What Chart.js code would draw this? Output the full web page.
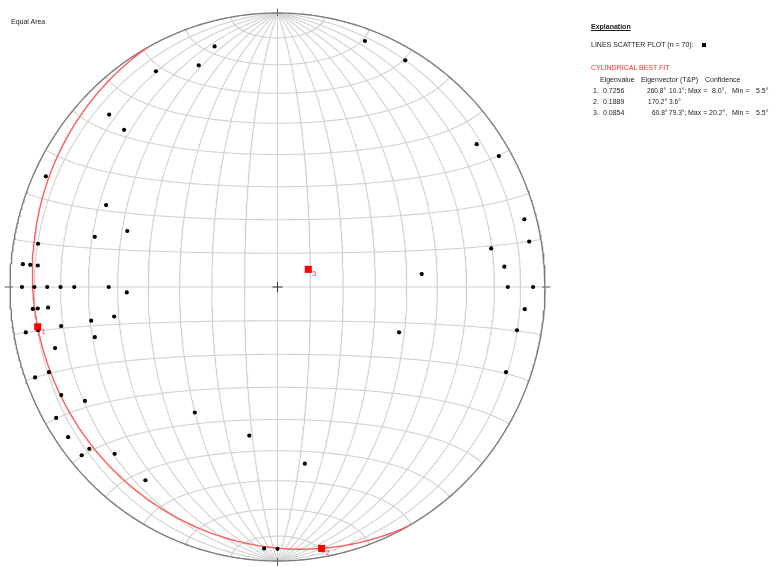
<!DOCTYPE html>
<html>
<head>
<meta charset="utf-8">
<script src="https://cdn.jsdelivr.net/npm/chart.js@4.4.0/dist/chart.umd.min.js"></script>
<style>
  html, body { margin: 0; padding: 0; background: #fff; }
  #wrap { position: relative; width: 774px; height: 567px; overflow: hidden;
          font-family: "Liberation Sans", Arial, sans-serif; color: #222; }
  #c { position: absolute; left: 0; top: 0; }
  .t { position: absolute; font-size: 7px; line-height: 8px; white-space: pre; }
  .n { font-size: 6.6px; }
  .red { color: #ff2a2a; }
  .hdr { font-weight: bold; text-decoration: underline; }
  .mark { position: absolute; width: 4px; height: 4px; background: #000; }
</style>
</head>
<body>
<div id="wrap">
  <canvas id="c" width="774" height="567"></canvas>
  <div class="t" style="left:11px;top:18px">Equal Area</div>
  <div id="legend"></div>
</div>
<script>
// Lineation measurements (trend / plunge, degrees)
const trends = [345, 340, 330, 20, 30, 315, 315, 55, 60,
                295, 295, 290, 285, 280, 275, 275, 275,
                270, 270, 270, 270, 270, 270, 268,
                265, 265, 265, 260, 260, 260, 260, 260,
                255, 255, 250, 250,
                244, 240, 240, 235, 230, 230, 225, 215, 214, 191, 171, 183, 180,
                75, 80, 80, 85, 85, 90, 90, 95, 110, 100, 110];
const plunges = [10, 15, 10, 5, 5, 12, 20, 10, 5,
                 5, 30, 40, 30, 10, 5, 8, 11,
                 5, 10, 15, 20, 25, 37, 43,
                 9, 11, 15, 30, 38, 19, 5, 10,
                 30, 15, 4, 10,
                 11, 18, 5, 5, 9, 5, 15, 15, 44, 44, 35, 5, 5,
                 5, 5, 20, 16, 45, 15, 5, 8, 50, 10, 10];
const sampleCount = 70;

// Cylindrical best fit: eigen analysis
const eigenvalues = [0.7256, 0.1889, 0.0854];
const eigenTrends = [260.8, 170.2, 60.8];
const eigenPlunges = [10.1, 3.6, 79.3];
const confMax = [8.0, null, 20.2];
const confMin = [5.5, null, 5.5];

const DEG = Math.PI / 180;

// Lower-hemisphere equal-area projection of a direction (north, east, down)
function toNet(n, e, d) {
  const len = Math.hypot(n, e, d);
  n /= len; e /= len; d /= len;
  if (d < -1e-9) { n = -n; e = -e; d = -d; }
  d = Math.max(0, d);
  const h = Math.hypot(n, e);
  const r = Math.sqrt(Math.max(0, 1 - d));
  if (h < 1e-12) return { x: 0, y: 0 };
  return { x: r * e / h, y: r * n / h };
}
function lineToNet(trend, plunge) {
  const t = trend * DEG, p = plunge * DEG;
  return toNet(Math.cos(p) * Math.cos(t), Math.cos(p) * Math.sin(t), Math.sin(p));
}

// Schmidt net: great circles through N-S and small circles about the N-S axis
const gridLines = [];
for (let k = 10; k < 180; k += 10) {
  const gc = [], sc = [];
  for (let t = 0; t <= 180; t += 1) {
    const a = t * DEG, b = k * DEG;
    gc.push(toNet(Math.cos(a), Math.sin(a) * Math.cos(b), Math.sin(a) * Math.sin(b)));
    sc.push(toNet(Math.cos(b), Math.sin(b) * Math.cos(a), Math.sin(b) * Math.sin(a)));
  }
  gridLines.push(gc, sc);
}

// Primitive circle
const primitive = [];
for (let a = 0; a <= 360; a += 0.5) primitive.push({ x: Math.sin(a * DEG), y: Math.cos(a * DEG) });

// Best-fit great circle: the plane normal to eigenvector 3
const poleTrend = eigenTrends[2], polePlunge = eigenPlunges[2];
const dipDir = (poleTrend + 180) % 360, dip = 90 - polePlunge;
const sAz = (dipDir - 90) * DEG;
const S = [Math.cos(sAz), Math.sin(sAz), 0];
const D = [Math.cos(dipDir * DEG) * Math.cos(dip * DEG), Math.sin(dipDir * DEG) * Math.cos(dip * DEG), Math.sin(dip * DEG)];
const fitCircle = [];
for (let t = 0; t <= 180; t += 1) {
  const c = Math.cos(t * DEG), s = Math.sin(t * DEG);
  fitCircle.push(toNet(c * S[0] + s * D[0], c * S[1] + s * D[1], c * S[2] + s * D[2]));
}

const dataPoints = trends.map((t, i) => lineToNet(t, plunges[i]));
const eigenPoints = eigenTrends.map((t, i) => lineToNet(t, eigenPlunges[i]));

const datasets = [];
datasets.push({ data: eigenPoints, pointStyle: 'rect', pointRadius: 5, backgroundColor: '#ff0000',
  borderColor: '#ff0000', borderWidth: 0, showLine: false, order: -2, clip: false });
datasets.push({ data: dataPoints, pointRadius: 2.1, backgroundColor: '#000', borderWidth: 0,
  showLine: false, order: -1, clip: false });
datasets.push({ data: [{ x: 0, y: 0 }], pointStyle: 'cross', pointRadius: 5, borderColor: '#333',
  borderWidth: 1, showLine: false, order: 0, clip: false });
datasets.push({ data: fitCircle, showLine: true, pointRadius: 0, borderColor: '#ff5c5c', borderWidth: 1.4,
  tension: 0, order: 1, clip: false });
datasets.push({ data: primitive, showLine: true, pointRadius: 0, borderColor: '#7c7c7c', borderWidth: 1.4,
  tension: 0, order: 2, clip: false });
// Cardinal ticks
[[0, 1], [1, 0], [0, -1], [-1, 0]].forEach(([ux, uy]) => {
  datasets.push({ data: [{ x: ux * 0.99, y: uy * 0.99 }, { x: ux * 1.02, y: uy * 1.016 }], showLine: true,
    pointRadius: 0, borderColor: '#555', borderWidth: 1, order: 2, clip: false });
});
gridLines.forEach(g => datasets.push({ data: g, showLine: true, pointRadius: 0, borderColor: '#d2d2d2',
  borderWidth: 1.1, tension: 0, order: 3, clip: false }));

// Numbers beside the eigenvector markers
const eigenLabels = {
  id: 'eigenLabels',
  afterDatasetsDraw(chart) {
    const ctx = chart.ctx, xs = chart.scales.x, ys = chart.scales.y;
    ctx.save();
    ctx.fillStyle = '#ff3030';
    ctx.font = '7px "Liberation Sans", Arial, sans-serif';
    ctx.textBaseline = 'middle';
    eigenPoints.forEach((p, i) => {
      ctx.fillText(String(i + 1), xs.getPixelForValue(p.x) + 4, ys.getPixelForValue(p.y) + 5);
    });
    ctx.restore();
  }
};

new Chart(document.getElementById('c'), {
  type: 'scatter',
  data: { datasets },
  options: {
    responsive: false,
    animation: false,
    events: [],
    layout: { padding: { left: 10, right: 229, top: 13, bottom: 1 } },
    plugins: { legend: { display: false }, tooltip: { enabled: false } },
    scales: {
      x: { type: 'linear', min: -1, max: 1, display: false },
      y: { type: 'linear', min: -1, max: 1, display: false }
    }
  },
  plugins: [eigenLabels]
});

// Explanation panel
const legend = document.getElementById('legend');
function addText(txt, x, y, cls) {
  const d = document.createElement('div');
  d.className = 't' + (cls ? ' ' + cls : '');
  d.style.left = x + 'px';
  d.style.top = (y - 4) + 'px';
  d.textContent = txt;
  legend.appendChild(d);
}
const fmtDeg = v => v.toFixed(1) + '°';
addText('Explanation', 591, 27, 'hdr');
addText('LINES SCATTER PLOT (n = ' + sampleCount + '):', 591, 45);
const mk = document.createElement('div');
mk.className = 'mark'; mk.style.left = '702px'; mk.style.top = '43px';
legend.appendChild(mk);
addText('CYLINDRICAL BEST FIT', 591, 68, 'red');
addText('Eigenvalue', 600, 80);
addText('Eigenvector (T&P)', 641, 80);
addText('Confidence', 705, 80);
const trendX = [647, 648, 652];
eigenvalues.forEach((ev, i) => {
  const y = 91 + i * 11;
  addText((i + 1) + '.', 593, y);
  addText(ev.toFixed(4), 603, y);
  addText(fmtDeg(eigenTrends[i]), trendX[i], y, 'n');
  addText(fmtDeg(eigenPlunges[i]) + (confMax[i] !== null ? ';' : ''), 669, y, 'n');
  if (confMax[i] !== null) {
    addText('Max =', 688, y);
    addText(fmtDeg(confMax[i]) + ',', confMax[i] < 10 ? 712 : 709, y);
    addText('Min =', 732, y);
    addText(fmtDeg(confMin[i]), 756, y);
  }
});
</script>
</body>
</html>
